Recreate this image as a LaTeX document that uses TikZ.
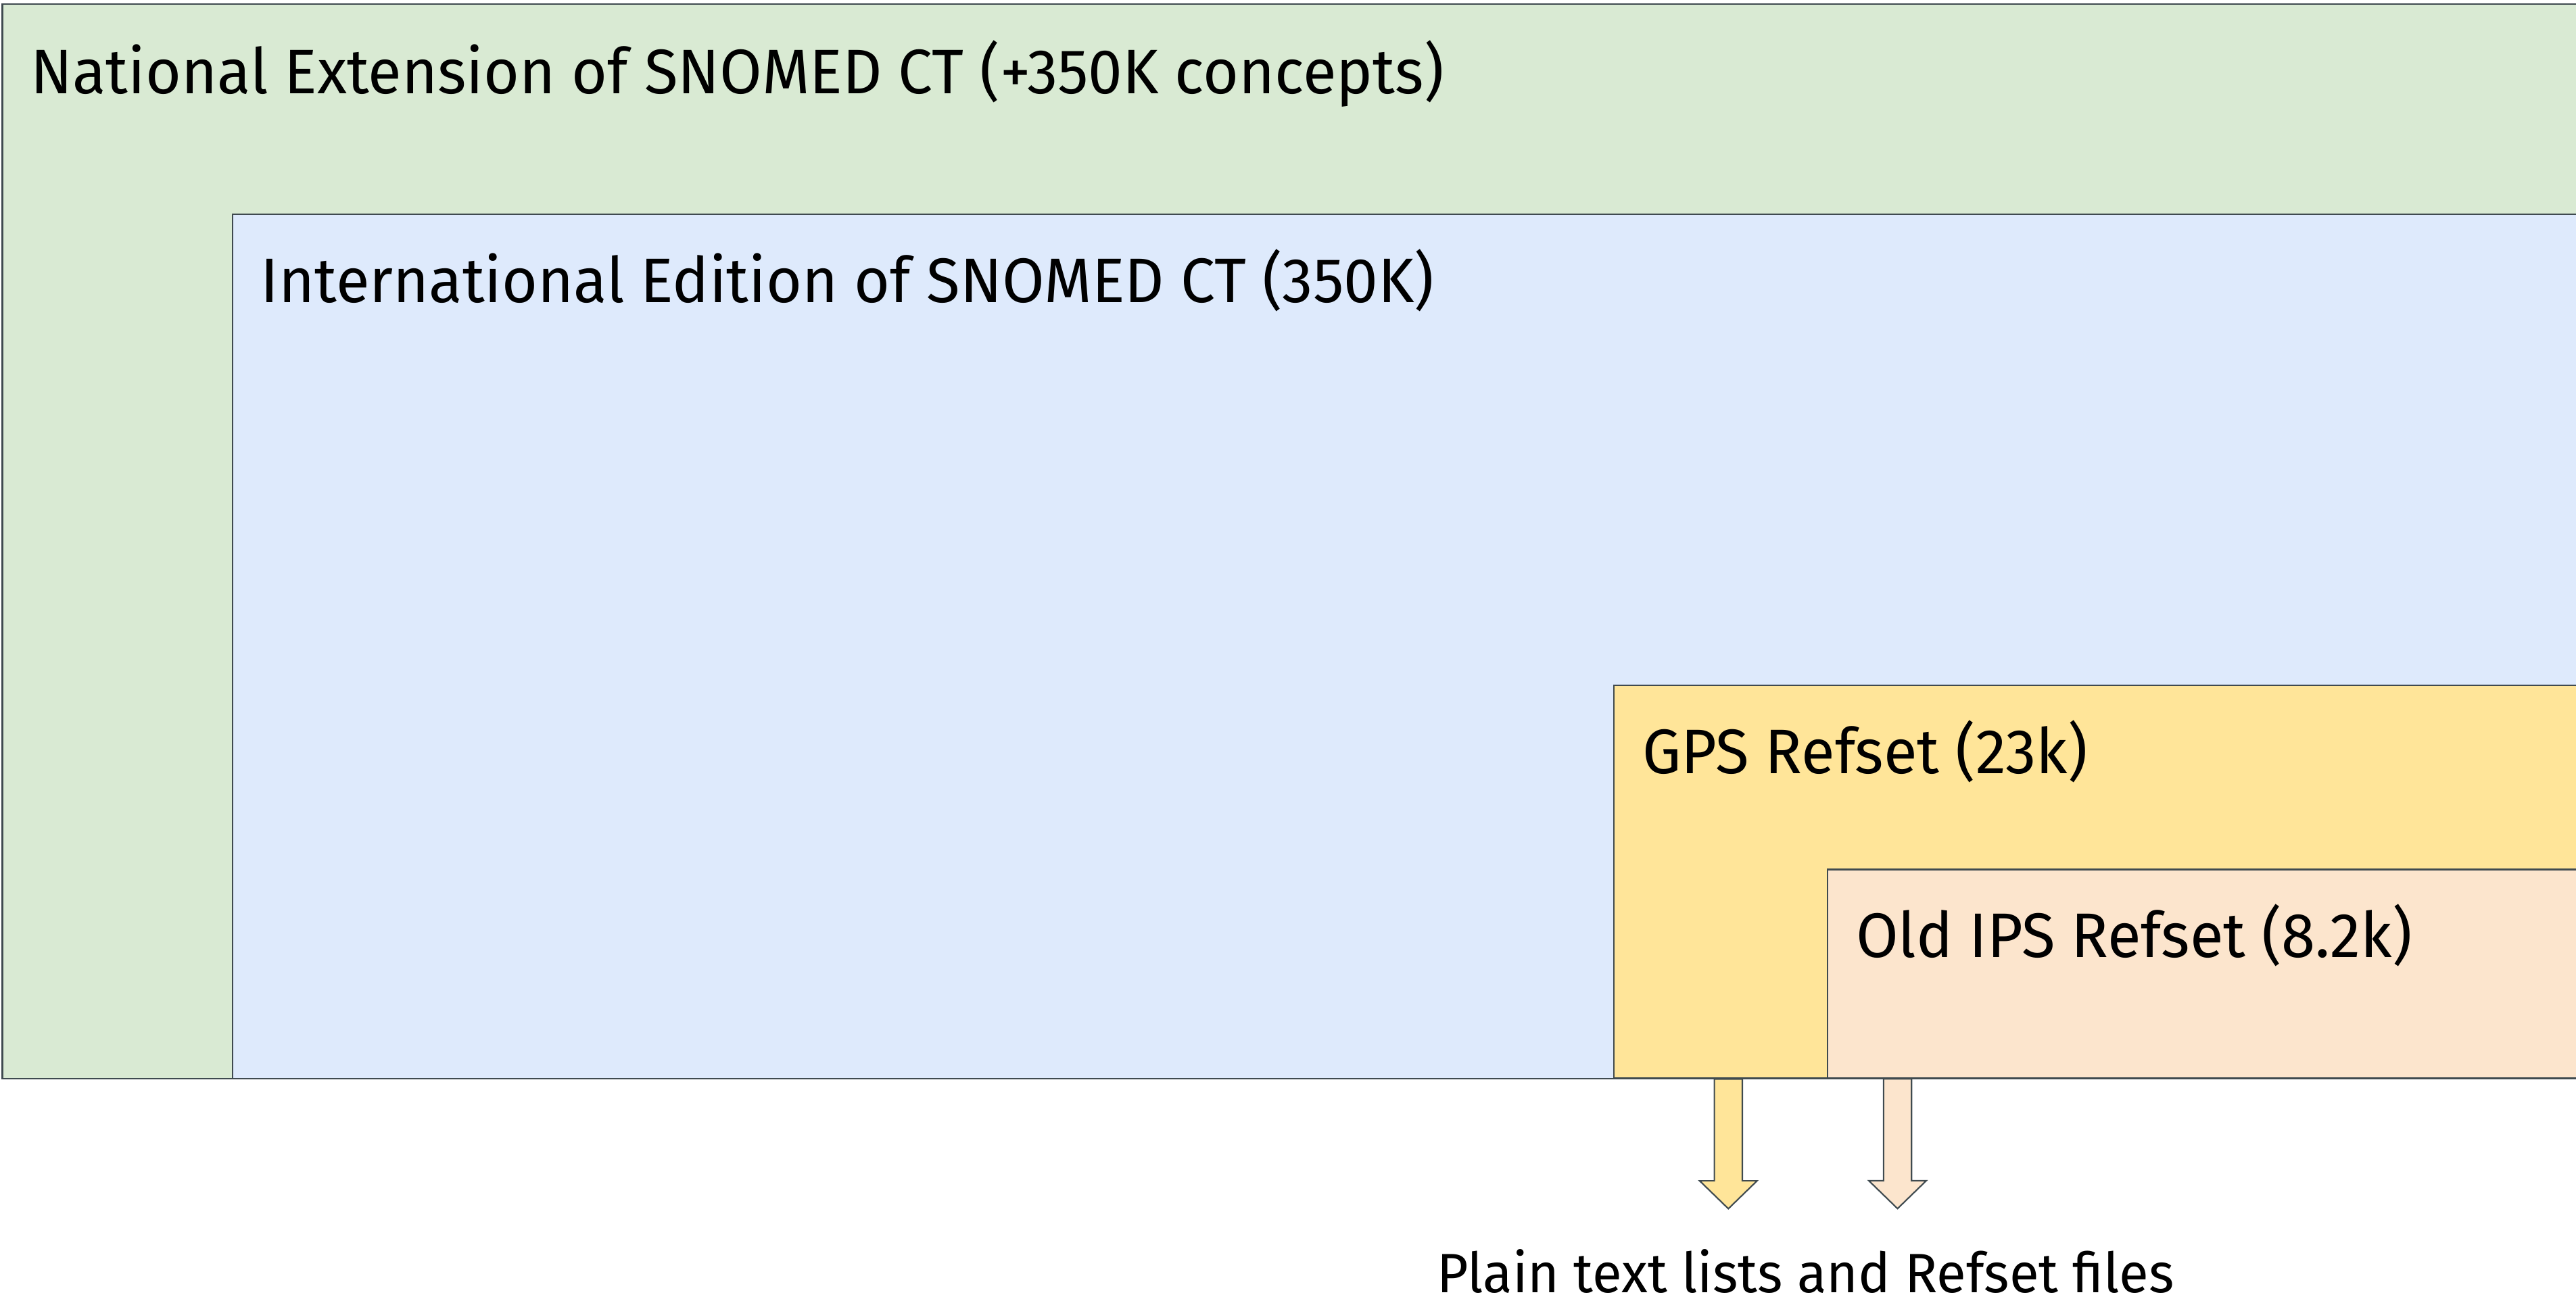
\documentclass[tikz,border=0pt]{standalone}
\usepackage{fontspec}
\setmainfont[FakeStretch=0.975]{Fira Sans}
\usetikzlibrary{positioning}
\definecolor{edge}{HTML}{3F4A4F}
\definecolor{natfill}{HTML}{D9EAD3}
\definecolor{intfill}{HTML}{DEEAFC}
\definecolor{gpsfill}{HTML}{FFE599}
\definecolor{ipsfill}{HTML}{FCE5CD}
\tikzset{
box/.style={rectangle, draw=edge, line width=0.25pt, anchor=north west, inner sep=0pt},
caption/.style={anchor=base west, inner sep=0pt, font=\fontsize{10.9}{13}\selectfont},
outarrow/.style={draw=edge, line width=0.25pt}
}

\begin{document}
\begin{tikzpicture}[x=0.01cm, y=-0.01cm]
    \useasboundingbox (0,0) rectangle (1568,791);
    \clip (0,0) rectangle (1568,791);
    % Place nodes
    \node [box, fill=natfill, minimum width=15.99cm, minimum height=6.54cm] (national) at (1,2) {};
    \node [box, fill=intfill, minimum width=14.59cm, minimum height=5.26cm] (international) at (141,130) {};
    \node [box, fill=gpsfill, minimum width=6.18cm, minimum height=2.39cm] (gps) at (982,417) {};
    \node [box, fill=ipsfill, minimum width=4.88cm, minimum height=1.27cm] (ips) at (1112,529) {};
    % Labels
    \node [caption] (nationallabel) at ([shift={(17,55)}]national.north west) {National Extension of SNOMED CT (+350K concepts)};
    \node [caption] (internationallabel) at ([shift={(17,54)}]international.north west) {International Edition of SNOMED CT (350K)};
    \node [caption] (gpslabel) at ([shift={(17,54)}]gps.north west) {GPS Refset (23k)};
    \node [caption] (ipslabel) at ([shift={(17,54)}]ips.north west) {Old IPS Refset (8.2k)};
    \node [caption, anchor=base, text depth=0pt, font=\fontsize{9.6}{11}\selectfont] (output) at (1099,787) {Plain text lists and Refset files};
    % Draw arrows
    \coordinate (gpsout) at ([xshift=0.7cm]gps.south west);
    \coordinate (ipsout) at ([xshift=0.43cm]ips.south west);
    \path [outarrow, fill=gpsfill] (gpsout) ++(-8.5,0) -- ++(0,62) -- ++(-9,0) -- ++(17.5,17) -- ++(17.5,-17) -- ++(-9,0) -- ++(0,-62) -- cycle;
    \path [outarrow, fill=ipsfill] (ipsout) ++(-8.5,0) -- ++(0,62) -- ++(-9,0) -- ++(17.5,17) -- ++(17.5,-17) -- ++(-9,0) -- ++(0,-62) -- cycle;
\end{tikzpicture}
\end{document}
